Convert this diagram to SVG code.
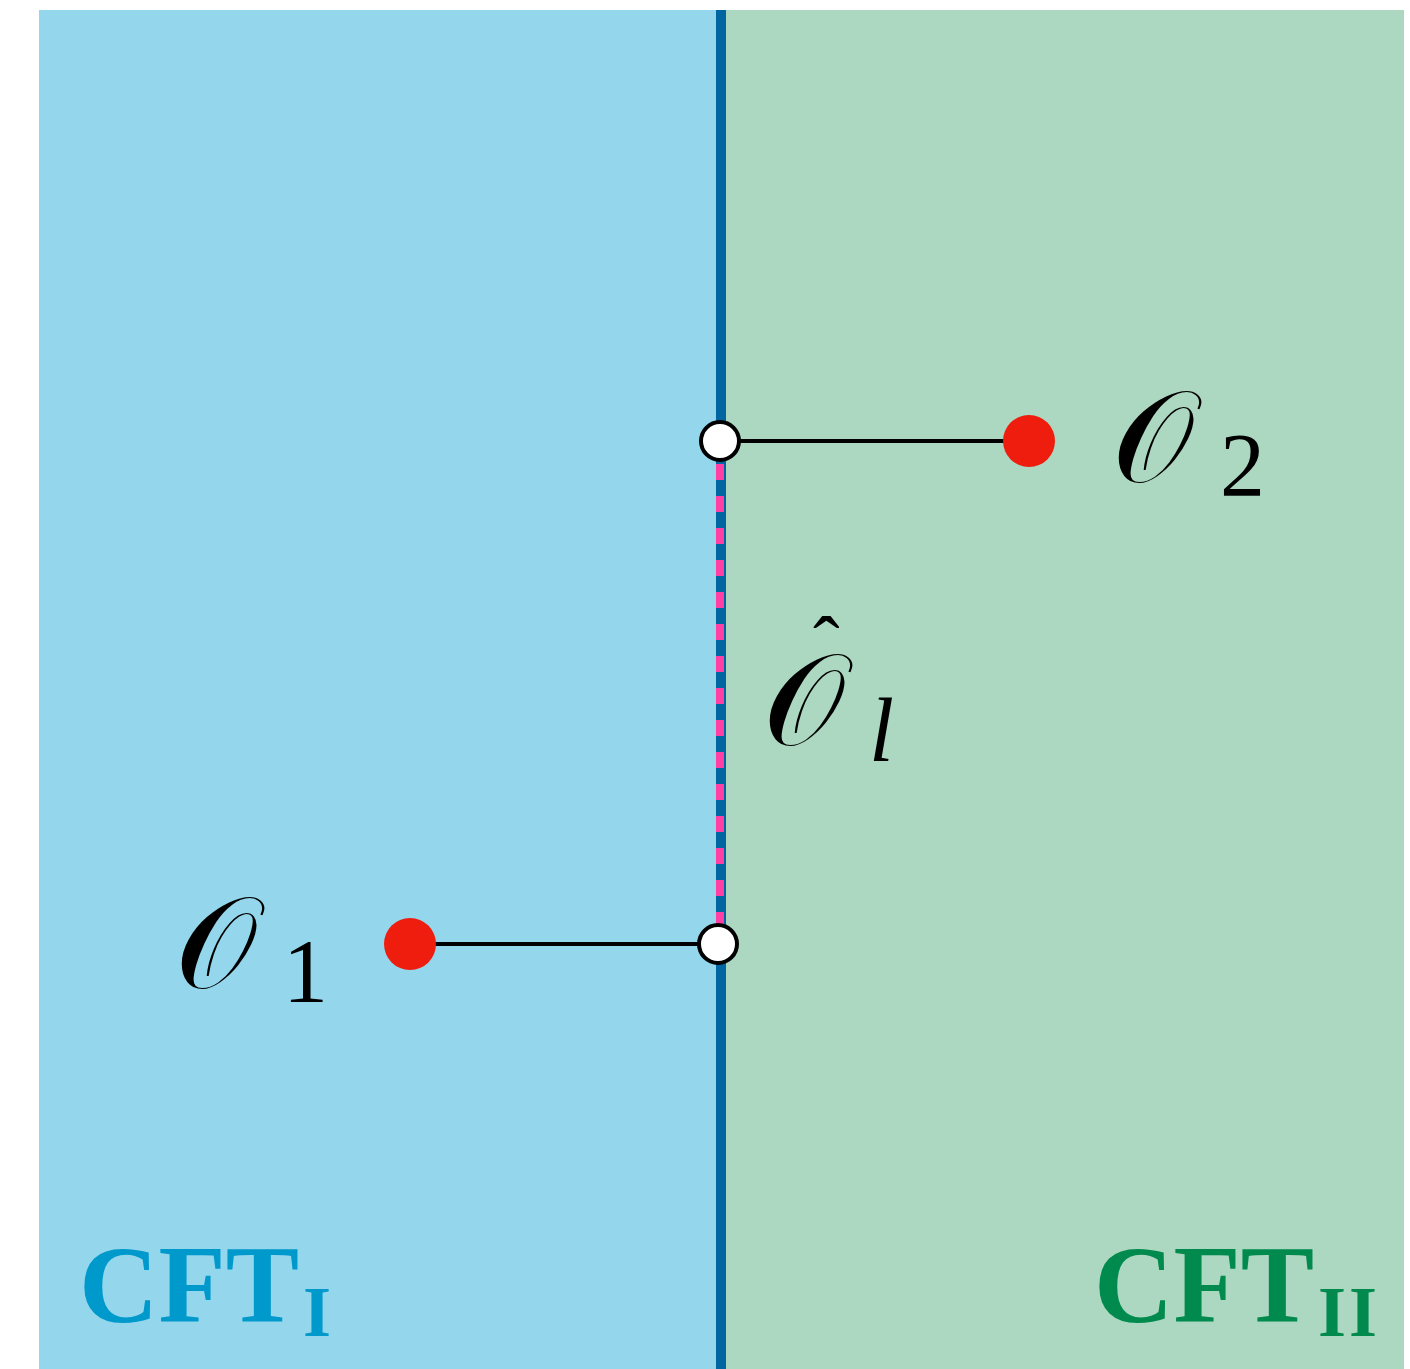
<svg xmlns="http://www.w3.org/2000/svg" width="1410" height="1369" viewBox="0 0 1410 1369">
<style>
.lbl{font-family:"DejaVu Serif","Liberation Serif",serif;fill:#000}
.sub{font-family:"Liberation Serif",serif;fill:#000}
.cft{font-family:"Liberation Serif",serif;font-weight:bold}
.conn{stroke:#000;stroke-width:4}
.open{fill:#fff;stroke:#000;stroke-width:4}
.dot{fill:#EE1D0E}
</style>
<rect x="0" y="0" width="1410" height="1369" fill="#fff"/>
<g id="cft1">
<rect x="39" y="10" width="683" height="1359" fill="#94D7ED"/>
<text class="cft" x="79" y="1322" font-size="110" fill="#0099CC">CFT<tspan font-size="72" dx="4" dy="14">I</tspan></text>
</g>
<g id="cft2">
<rect x="722" y="10" width="682" height="1359" fill="#ACD8C2"/>
<text class="cft" x="1094" y="1322" font-size="110" fill="#008A4E">CFT<tspan font-size="72" dx="4" dy="14" letter-spacing="3">II</tspan></text>
</g>
<g id="interface">
<line x1="721" y1="10" x2="721" y2="1369" stroke="#0066A1" stroke-width="10"/>
<line x1="720" y1="464" x2="720" y2="924" stroke="#FF3FA4" stroke-width="8" stroke-dasharray="16 16"/>
</g>
<g id="connectors">
<line class="conn" x1="720" y1="441" x2="1029" y2="441"/>
<line class="conn" x1="410" y1="944" x2="718" y2="944"/>
</g>
<g id="O2">
<circle class="open" cx="720" cy="441" r="19"/>
<circle class="dot" cx="1029" cy="441" r="26"/>
<text class="lbl" x="1112" y="482" font-size="130">𝒪<tspan class="sub" font-size="90" dx="26" dy="14">2</tspan></text>
</g>
<g id="O1">
<circle class="open" cx="718" cy="944" r="19"/>
<circle class="dot" cx="410" cy="944" r="26"/>
<text class="lbl" x="175" y="988" font-size="130">𝒪<tspan class="sub" font-size="90" dx="26" dy="14">1</tspan></text>
</g>
<g id="Ol">
<text class="sub" x="813" y="672" font-size="80">ˆ</text>
<text class="lbl" x="763" y="745" font-size="130">𝒪<tspan class="sub" font-size="90" dx="24" dy="16" font-style="italic">l</tspan></text>
</g>
</svg>
